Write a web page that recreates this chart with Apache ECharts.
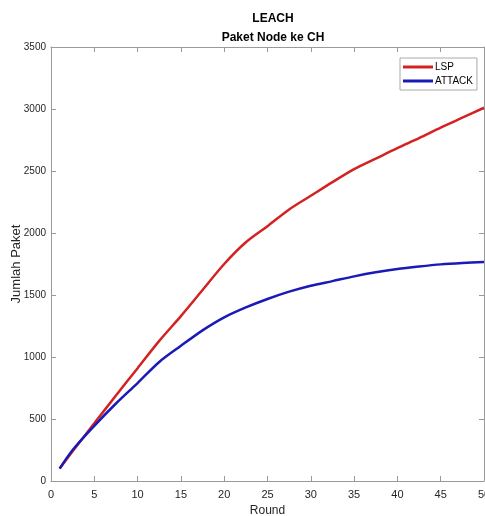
<!DOCTYPE html>
<html>
<head>
	<meta charset="utf-8">
	<script src="https://cdn.jsdelivr.net/npm/echarts@6/dist/echarts.min.js"></script>
	<style>
		html, body { margin: 0; padding: 0; background: #fff; }
	</style>
</head>
<body>
	<div id="main" style="width: 485px; height: 516px"></div>
	<script type="text/javascript">
		// data
		var rounds = [1, 2.5, 5, 7.5, 10, 12.5, 15, 17.5, 20, 22.5, 25, 27.5, 30, 32.5, 35, 37.5, 40, 42.5, 45, 47.5, 50];
		var lspValues = [100, 240, 465, 690, 910, 1130, 1330, 1540, 1750, 1925, 2055, 2190, 2300, 2410, 2515, 2600, 2685, 2765, 2850, 2930, 3010];
		var attackValues = [100, 250, 445, 625, 790, 960, 1090, 1215, 1320, 1400, 1468, 1527, 1575, 1612, 1650, 1683, 1710, 1730, 1747, 1758, 1766];
		var seriesNames = ['LSP', 'ATTACK'];

		function pairs(xs, ys) {
			return xs.map(function (x, i) { return [x, ys[i]]; });
		}

		var font = 'Liberation Sans, Arial, sans-serif';
		var axisGrey = '#9a9a9a';
		var labelColor = '#262626';
		var plain = function (v) { return String(v); };

		// matlab-like box: ticks pointing inwards on all four sides
		function boxAxis(extra) {
			return Object.assign({
				type: 'value',
				nameMoveOverlap: false,
				axisLine: { show: true, onZero: false, lineStyle: { color: axisGrey } },
				axisTick: { show: true, inside: true, length: 5, lineStyle: { color: axisGrey } },
				splitLine: { show: false }
			}, extra);
		}

		var myChart = echarts.init(document.getElementById('main'));
		var option = {
			backgroundColor: '#fff',
			animation: false,
			textStyle: { fontFamily: font },
			title: {
				text: 'LEACH\nPaket Node ke CH',
				left: 268, top: 4, textAlign: 'center',
				textStyle: { fontSize: 12, fontWeight: 'bold', color: '#000', lineHeight: 19, fontFamily: font }
			},
			legend: {
				orient: 'vertical',
				left: 400, top: 58,
				backgroundColor: '#fff',
				borderColor: '#aaa', borderWidth: 1,
				padding: [4, 4, 4, 3],
				itemGap: 4,
				itemWidth: 30, itemHeight: 3,
				icon: 'rect',
				textStyle: { fontSize: 10, color: '#000', padding: [0, 0, 0, -3] },
				data: seriesNames
			},
			grid: { left: 51, right: 1, top: 47, bottom: 35, containLabel: false, outerBoundsMode: 'none' },
			xAxis: [
				boxAxis({
					min: 0, max: 50, interval: 5, position: 'bottom',
					name: 'Round', nameLocation: 'middle', nameGap: 24,
					nameTextStyle: { fontSize: 12, color: labelColor },
					axisLabel: { fontSize: 11, color: labelColor, margin: 8, formatter: plain, showMaxLabel: true, hideOverlap: false }
				}),
				boxAxis({ min: 0, max: 50, interval: 5, position: 'top', axisLabel: { show: false } })
			],
			yAxis: [
				boxAxis({
					min: 0, max: 3500, interval: 500, position: 'left',
					name: 'Jumlah Paket', nameLocation: 'middle', nameGap: 28,
					nameTextStyle: { fontSize: 13, color: labelColor },
					axisLabel: { fontSize: 10, color: labelColor, margin: 5, formatter: plain }
				}),
				boxAxis({ min: 0, max: 3500, interval: 500, position: 'right', axisLabel: { show: false } })
			],
			series: [{
				name: seriesNames[0], type: 'line',
				data: pairs(rounds, lspValues),
				showSymbol: false, smooth: 0.3,
				color: '#d42222',
				lineStyle: { width: 2.5, color: '#d42222' }
			}, {
				name: seriesNames[1], type: 'line',
				data: pairs(rounds, attackValues),
				showSymbol: false, smooth: 0.3,
				color: '#1a1ab8',
				lineStyle: { width: 2.5, color: '#1a1ab8' }
			}]
		};
		myChart.setOption(option);
	</script>
</body>
</html>
